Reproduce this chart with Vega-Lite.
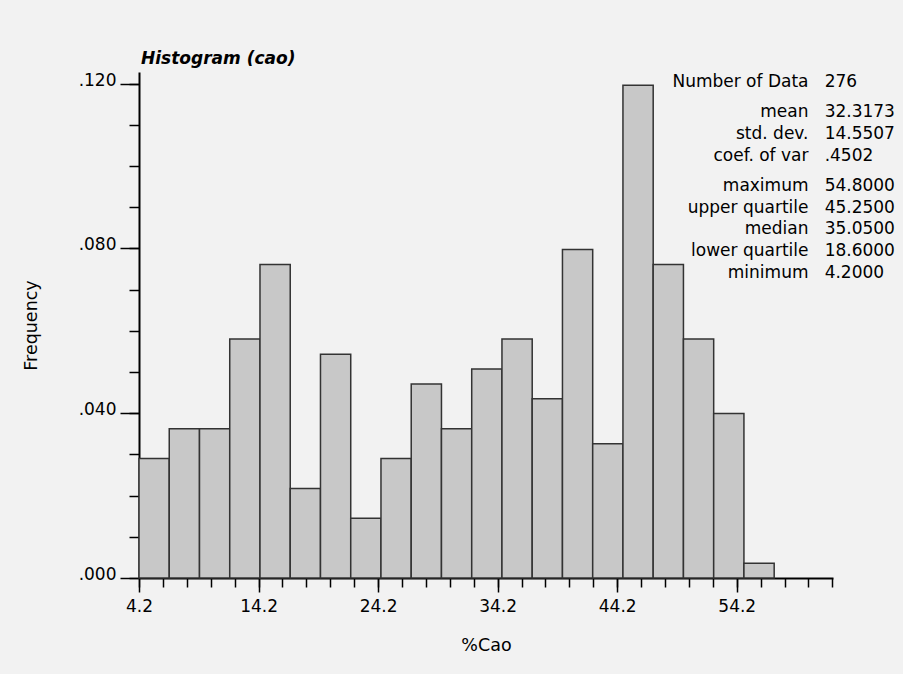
{
  "$schema": "https://vega.github.io/schema/vega-lite/v6.json",
  "width": 694,
  "height": 506,
  "autosize": {"type": "none"},
  "padding": {"left": 139, "top": 72, "right": 70, "bottom": 96},
  "background": "#f2f2f2",
  "config": {
    "font": "DejaVu Sans",
    "view": {"stroke": null},
    "axis": {
      "domainColor": "#000000",
      "domainWidth": 2,
      "tickColor": "#000000",
      "tickWidth": 1.5,
      "labelColor": "#000000",
      "titleColor": "#000000",
      "labelFont": "DejaVu Sans",
      "titleFont": "DejaVu Sans",
      "labelFontSize": 17,
      "titleFontSize": 17.5,
      "titleFontWeight": "normal",
      "grid": false,
      "zindex": 1
    }
  },
  "title": {
    "text": "Histogram (cao)",
    "anchor": "start",
    "frame": "group",
    "font": "DejaVu Sans",
    "fontSize": 17,
    "fontWeight": "bold",
    "fontStyle": "italic",
    "color": "#000000",
    "baseline": "alphabetic",
    "offset": -10,
    "dx": 2
  },
  "datasets": {
    "bins": [
      {"bin_start": 4.2, "bin_end": 6.73, "frequency": 0.0290},
      {"bin_start": 6.73, "bin_end": 9.26, "frequency": 0.0362},
      {"bin_start": 9.26, "bin_end": 11.79, "frequency": 0.0362},
      {"bin_start": 11.79, "bin_end": 14.32, "frequency": 0.0580},
      {"bin_start": 14.32, "bin_end": 16.85, "frequency": 0.0761},
      {"bin_start": 16.85, "bin_end": 19.38, "frequency": 0.0217},
      {"bin_start": 19.38, "bin_end": 21.91, "frequency": 0.0543},
      {"bin_start": 21.91, "bin_end": 24.44, "frequency": 0.0145},
      {"bin_start": 24.44, "bin_end": 26.97, "frequency": 0.0290},
      {"bin_start": 26.97, "bin_end": 29.5, "frequency": 0.0471},
      {"bin_start": 29.5, "bin_end": 32.03, "frequency": 0.0362},
      {"bin_start": 32.03, "bin_end": 34.56, "frequency": 0.0507},
      {"bin_start": 34.56, "bin_end": 37.09, "frequency": 0.0580},
      {"bin_start": 37.09, "bin_end": 39.62, "frequency": 0.0435},
      {"bin_start": 39.62, "bin_end": 42.15, "frequency": 0.0797},
      {"bin_start": 42.15, "bin_end": 44.68, "frequency": 0.0326},
      {"bin_start": 44.68, "bin_end": 47.21, "frequency": 0.1196},
      {"bin_start": 47.21, "bin_end": 49.74, "frequency": 0.0761},
      {"bin_start": 49.74, "bin_end": 52.27, "frequency": 0.0580},
      {"bin_start": 52.27, "bin_end": 54.8, "frequency": 0.0399},
      {"bin_start": 54.8, "bin_end": 57.33, "frequency": 0.0036}
    ],
    "stats": [
      {"stat": "Number of Data", "value": "276", "block": 1},
      {"stat": "mean", "value": "32.3173", "block": 2},
      {"stat": "std. dev.", "value": "14.5507", "block": 2},
      {"stat": "coef. of var", "value": ".4502", "block": 2},
      {"stat": "maximum", "value": "54.8000", "block": 3},
      {"stat": "upper quartile", "value": "45.2500", "block": 3},
      {"stat": "median", "value": "35.0500", "block": 3},
      {"stat": "lower quartile", "value": "18.6000", "block": 3},
      {"stat": "minimum", "value": "4.2000", "block": 3}
    ]
  },
  "resolve": {"scale": {"y": "independent"}, "axis": {"y": "independent"}},
  "layer": [
    {
      "data": {"name": "bins"},
      "resolve": {"axis": {"x": "independent", "y": "independent"}},
      "layer": [
        {
          "mark": {"type": "bar", "fill": "#c8c8c8", "stroke": "#333333", "strokeWidth": 1.5},
          "encoding": {
            "x": {
              "field": "bin_start",
              "type": "quantitative",
              "scale": {"domain": [4.2, 62.25], "nice": false, "zero": false},
              "axis": {
                "orient": "bottom",
                "title": "%Cao",
                "values": [4.2, 14.2, 24.2, 34.2, 44.2, 54.2],
                "format": ".1f",
                "tickSize": 14,
                "labelPadding": 6,
                "labelFlush": false,
                "labelOverlap": false,
                "titlePadding": 22
              }
            },
            "x2": {"field": "bin_end"},
            "y": {
              "field": "frequency",
              "type": "quantitative",
              "scale": {"domain": [0, 0.1228], "nice": false},
              "axis": {
                "orient": "left",
                "title": "Frequency",
                "values": [0, 0.04, 0.08, 0.12],
                "labelExpr": "substring(format(datum.value, '.3f'), 1)",
                "tickSize": 19,
                "labelPadding": 4,
                "labelBaseline": "alphabetic",
                "labelOffset": 1.5,
                "labelFlush": false,
                "labelOverlap": false,
                "titlePadding": 38
              }
            },
            "y2": {"datum": 0}
          }
        },
        {
          "mark": {"type": "point", "opacity": 0},
          "encoding": {
            "x": {
              "field": "bin_start",
              "type": "quantitative",
              "axis": {
                "orient": "bottom",
                "title": null,
                "values": [4.2, 6.2, 8.2, 10.2, 12.2, 14.2, 16.2, 18.2, 20.2, 22.2, 24.2, 26.2, 28.2, 30.2, 32.2, 34.2, 36.2, 38.2, 40.2, 42.2, 44.2, 46.2, 48.2, 50.2, 52.2, 54.2, 56.2, 58.2, 60.2, 62.2],
                "labels": false,
                "domain": false,
                "tickSize": 9
              }
            },
            "y": {
              "field": "frequency",
              "type": "quantitative",
              "axis": {
                "orient": "left",
                "title": null,
                "values": [0, 0.01, 0.02, 0.03, 0.04, 0.05, 0.06, 0.07, 0.08, 0.09, 0.1, 0.11, 0.12],
                "labels": false,
                "domain": false,
                "tickSize": 10
              }
            }
          }
        }
      ]
    },
    {
      "data": {"name": "stats"},
      "encoding": {
        "y": {
          "field": "stat",
          "type": "nominal",
          "sort": null,
          "scale": {
            "type": "band",
            "domain": ["Number of Data", "mean", "std. dev.", "coef. of var", "maximum", "upper quartile", "median", "lower quartile", "minimum"],
            "range": [9.7, 205.9],
            "paddingInner": 0,
            "paddingOuter": 0
          },
          "axis": null
        },
        "yOffset": {
          "field": "block",
          "type": "quantitative",
          "scale": {"domain": [1, 3], "range": [0, 16.8], "zero": false, "nice": false}
        }
      },
      "layer": [
        {
          "mark": {"type": "text", "align": "right", "baseline": "middle", "fontSize": 17, "font": "DejaVu Sans", "color": "#000000"},
          "encoding": {
            "x": {"datum": 60.2, "type": "quantitative", "axis": null},
            "text": {"field": "stat"}
          }
        },
        {
          "mark": {"type": "text", "align": "left", "baseline": "middle", "fontSize": 17, "font": "DejaVu Sans", "color": "#000000"},
          "encoding": {
            "x": {"datum": 61.55, "type": "quantitative", "axis": null},
            "text": {"field": "value"}
          }
        }
      ]
    }
  ]
}
